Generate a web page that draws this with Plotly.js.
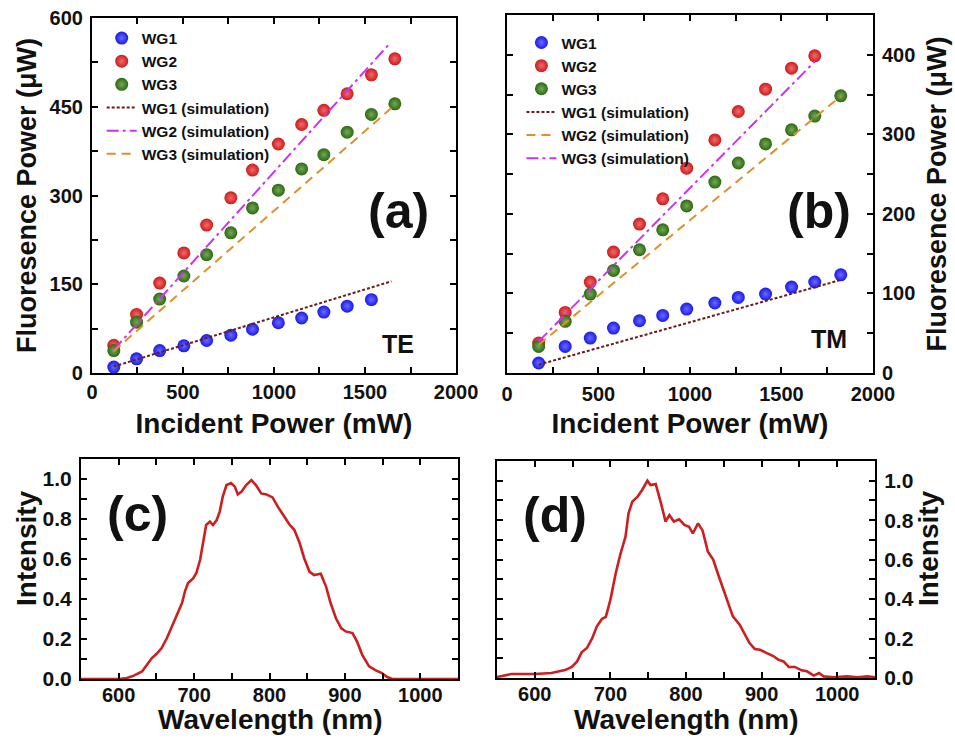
<!DOCTYPE html>
<html>
<head>
<meta charset="utf-8">
<script src="https://cdn.plot.ly/plotly-3.0.1.min.js"></script>
<style>html,body{margin:0;padding:0;background:#fff;}#chart{width:955px;height:740px;}</style>
</head>
<body>
<div id="chart"></div>
<script>
// ---- Panel (a): TE ----
const aX = [120, 245, 372, 505, 630, 763, 882, 1024, 1152, 1274, 1402, 1535, 1664];
const aWG1 = [10, 24, 38, 46, 55, 64, 74, 85, 93, 103, 113, 124];
const aWG2 = [47, 99, 152, 203, 250, 296, 343, 387, 420, 444, 472, 504, 531];
const aWG3 = [38, 86, 125, 164, 200, 237, 279, 309, 345, 369, 407, 437, 455];
const aSim1X = [119, 1645], aSim1Y = [11, 155];
const aSim2X = [119, 1636], aSim2Y = [39, 557];
const aSim3X = [119, 1664], aSim3Y = [37, 453];

// ---- Panel (b): TM ----
const bX = [173, 318, 455, 582, 724, 851, 982, 1136, 1264, 1413, 1555, 1682, 1824];
const bWG1 = [12.6, 33.5, 44, 56.5, 65.7, 72.4, 80.4, 88, 95, 99.2, 108, 114.4, 123.5];
const bWG2 = [37.7, 76.2, 114.3, 152, 187.2, 219, 257.5, 293, 328.7, 356.8, 383.2, 398.7];
const bWG3 = [33.5, 65, 99.2, 129, 155, 180, 210, 240, 264, 288, 305.7, 323, 348.4];
const bSim1X = [173, 1824], bSim1Y = [10.5, 117];
const bSim2X = [173, 1824], bSim2Y = [35.6, 348];
const bSim3X = [173, 1682], bSim3Y = [39.8, 391.5];

// ---- Panel (c) spectrum ----
const cX = [550, 600, 611, 620, 631, 637, 644, 650, 657, 664, 670, 677, 684, 688, 692, 699, 703, 708, 712, 716, 721, 725, 730, 734, 738, 743, 749, 754, 758, 763, 769, 776, 782, 789, 796, 804, 811, 818, 826, 833, 840, 846, 853, 859, 868, 875, 881, 888, 895, 901, 910, 916, 923, 932, 941, 949, 956, 963, 1050];
const cY = [0, 0, 0.005, 0.017, 0.038, 0.07, 0.105, 0.125, 0.155, 0.205, 0.255, 0.313, 0.38, 0.44, 0.48, 0.504, 0.53, 0.596, 0.695, 0.77, 0.787, 0.77, 0.795, 0.837, 0.912, 0.97, 0.98, 0.962, 0.923, 0.937, 0.97, 0.995, 0.97, 0.928, 0.923, 0.908, 0.862, 0.82, 0.775, 0.745, 0.68, 0.604, 0.537, 0.52, 0.526, 0.462, 0.38, 0.305, 0.255, 0.238, 0.23, 0.188, 0.121, 0.063, 0.043, 0.03, 0.01, 0, 0];

// ---- Panel (d) spectrum ----
const dX = [550, 569, 600, 622, 640, 649, 656, 662, 669, 676, 682, 689, 694, 700, 707, 713, 720, 724, 729, 736, 742, 749, 753, 760, 767, 773, 778, 784, 791, 798, 804, 809, 816, 822, 829, 836, 842, 849, 856, 862, 871, 878, 884, 891, 898, 907, 916, 922, 929, 936, 944, 953, 960, 969, 976, 982, 996, 1013, 1027, 1040, 1050];
const dY = [0.005, 0.02, 0.02, 0.025, 0.04, 0.056, 0.084, 0.13, 0.152, 0.202, 0.261, 0.3, 0.31, 0.396, 0.53, 0.624, 0.717, 0.835, 0.894, 0.919, 0.953, 1.0, 0.978, 0.983, 0.885, 0.793, 0.826, 0.793, 0.804, 0.776, 0.767, 0.733, 0.784, 0.747, 0.64, 0.6, 0.531, 0.455, 0.371, 0.312, 0.27, 0.219, 0.177, 0.147, 0.143, 0.126, 0.11, 0.093, 0.084, 0.056, 0.056, 0.039, 0.034, 0.012, 0.025, 0.008, 0.003, 0.008, 0.003, 0.008, 0.003];

const FONT = 'Liberation Sans, Arial, sans-serif';
const BLUE = {color: '#1a1ae8', gradient: {type: 'radial', color: '#6a6aff'}};
const RED = {color: '#cc1c1c', gradient: {type: 'radial', color: '#f26a6a'}};
const GREEN = {color: '#2c6a10', gradient: {type: 'radial', color: '#74a85a'}};
const C_SIM1 = '#6b1b1b', C_MAG = '#cc33ee', C_ORG = '#e0902a';

function pts(x, y, name, m, xa, ya, lg) {
  return {type: 'scatter', mode: 'markers', x: x, y: y, name: name, xaxis: xa, yaxis: ya, legend: lg,
    marker: {size: 13, color: m.color, gradient: m.gradient, line: {width: 0}}};
}
function sim(x, y, name, color, dash, xa, ya, lg) {
  return {type: 'scatter', mode: 'lines', x: x, y: y, name: name, xaxis: xa, yaxis: ya, legend: lg,
    line: {color: color, width: 2, dash: dash}};
}
const DOT = '3px,2px', DASH = '9px,6px', DASHDOT = '12px,4px,3px,4px';

const data = [
  pts(aX.slice(0, aWG1.length), aWG1, 'WG1', BLUE, 'x', 'y', 'legend'),
  pts(aX, aWG2, 'WG2', RED, 'x', 'y', 'legend'),
  pts(aX, aWG3, 'WG3', GREEN, 'x', 'y', 'legend'),
  sim(aSim1X, aSim1Y, 'WG1 (simulation)', C_SIM1, DOT, 'x', 'y', 'legend'),
  sim(aSim2X, aSim2Y, 'WG2 (simulation)', C_MAG, DASHDOT, 'x', 'y', 'legend'),
  sim(aSim3X, aSim3Y, 'WG3 (simulation)', C_ORG, DASH, 'x', 'y', 'legend'),

  pts(bX, bWG1, 'WG1', BLUE, 'x2', 'y2', 'legend2'),
  pts(bX.slice(0, bWG2.length), bWG2, 'WG2', RED, 'x2', 'y2', 'legend2'),
  pts(bX, bWG3, 'WG3', GREEN, 'x2', 'y2', 'legend2'),
  sim(bSim1X, bSim1Y, 'WG1 (simulation)', C_SIM1, DOT, 'x2', 'y2', 'legend2'),
  sim(bSim2X, bSim2Y, 'WG2 (simulation)', C_ORG, DASH, 'x2', 'y2', 'legend2'),
  sim(bSim3X, bSim3Y, 'WG3 (simulation)', C_MAG, DASHDOT, 'x2', 'y2', 'legend2'),

  {type: 'scatter', mode: 'lines', x: cX, y: cY, xaxis: 'x3', yaxis: 'y3', showlegend: false,
    line: {color: '#cc1f1f', width: 2.6}},
  {type: 'scatter', mode: 'lines', x: dX, y: dY, xaxis: 'x4', yaxis: 'y4', showlegend: false,
    line: {color: '#cc1f1f', width: 2.6}}
];

const TF = (s) => ({family: FONT, size: s, color: '#111', weight: 'bold'});
const MINOR = (d) => ({dtick: d, ticks: 'inside', ticklen: 6, tickwidth: 2, tickcolor: '#000'});
function ax(o) {
  return Object.assign({
    showline: true, linecolor: '#000', linewidth: 2, mirror: 'ticks',
    ticks: 'inside', ticklen: 6, tickwidth: 2, tickcolor: '#000',
    showgrid: false, zeroline: false, automargin: false,
    tickfont: TF(20)
  }, o);
}

function ann(text, px, py, size, extra) {
  return Object.assign({text: text, x: px / 955, y: 1 - py / 740, xref: 'paper', yref: 'paper',
    xanchor: 'center', yanchor: 'middle', showarrow: false, font: TF(size)}, extra || {});
}

const layout = {
  width: 955, height: 740,
  margin: {l: 0, r: 0, t: 0, b: 0},
  showlegend: true,
  xaxis: ax({domain: [0.0963, 0.4775], range: [0, 2000], dtick: 500, anchor: 'y', minor: MINOR(250),
    title: {text: 'Incident Power (mW)', font: TF(28), standoff: 11}}),
  yaxis: ax({domain: [0.4959, 0.9757], range: [0, 600], dtick: 150, anchor: 'x', minor: MINOR(75),
    ticklabelstandoff: 3,
    title: {text: 'Fluoresence Power (μW)', font: TF(27), standoff: 5}}),
  xaxis2: ax({domain: [0.5309, 0.9141], range: [0, 2000], dtick: 500, anchor: 'y2', minor: MINOR(250),
    ticklabelstandoff: 2,
    title: {text: 'Incident Power (mW)', font: TF(28), standoff: 9}}),
  yaxis2: ax({domain: [0.4959, 0.9797], range: [0, 450], dtick: 100, anchor: 'x2', side: 'right', minor: MINOR(50),
    ticklabelstandoff: 3,
    title: {text: 'Fluoresence Power (μW)', font: TF(27), standoff: 13}}),
  xaxis3: ax({domain: [0.0848, 0.4796], range: [550, 1050], dtick: 100, anchor: 'y3', minor: MINOR(50),
    tickfont: TF(20), ticklabelstandoff: -3}),
  yaxis3: ax({domain: [0.0824, 0.3797], range: [0, 1.1], dtick: 0.2, tickformat: '.1f', anchor: 'x3', minor: MINOR(0.1),
    tickfont: TF(21), ticklabelstandoff: 3}),
  xaxis4: ax({domain: [0.5204, 0.9162], range: [550, 1050], dtick: 100, anchor: 'y4', minor: MINOR(50),
    tickfont: TF(20), ticklabelstandoff: -3}),
  yaxis4: ax({domain: [0.0838, 0.377], range: [0, 1.1], dtick: 0.2, tickformat: '.1f', anchor: 'x4', side: 'right', minor: MINOR(0.1),
    tickfont: TF(21), ticklabelstandoff: 3}),
  legend: {x: 0.1065, y: 0.971, xanchor: 'left', yanchor: 'top', bgcolor: 'rgba(0,0,0,0)',
    font: TF(15.5), tracegroupgap: 0, itemwidth: 30},
  legend2: {x: 0.546, y: 0.965, xanchor: 'left', yanchor: 'top', bgcolor: 'rgba(0,0,0,0)',
    font: TF(15.5), tracegroupgap: 0, itemwidth: 30},
  annotations: [
    ann('(a)', 398, 211, 50),
    ann('TE', 398, 344, 25),
    ann('(b)', 819, 211, 50),
    ann('TM', 829, 339, 25),
    ann('(c)', 137, 514, 50),
    ann('(d)', 555, 515, 50),
    ann('Wavelength (nm)', 270, 719, 28),
    ann('Wavelength (nm)', 686, 719, 28),
    ann('Intensity', 26, 548, 28, {textangle: -90}),
    ann('Intensity', 928, 548, 28, {textangle: -90})
  ]
};

Plotly.newPlot('chart', data, layout, {displayModeBar: false, staticPlot: true});
</script>
</body>
</html>
